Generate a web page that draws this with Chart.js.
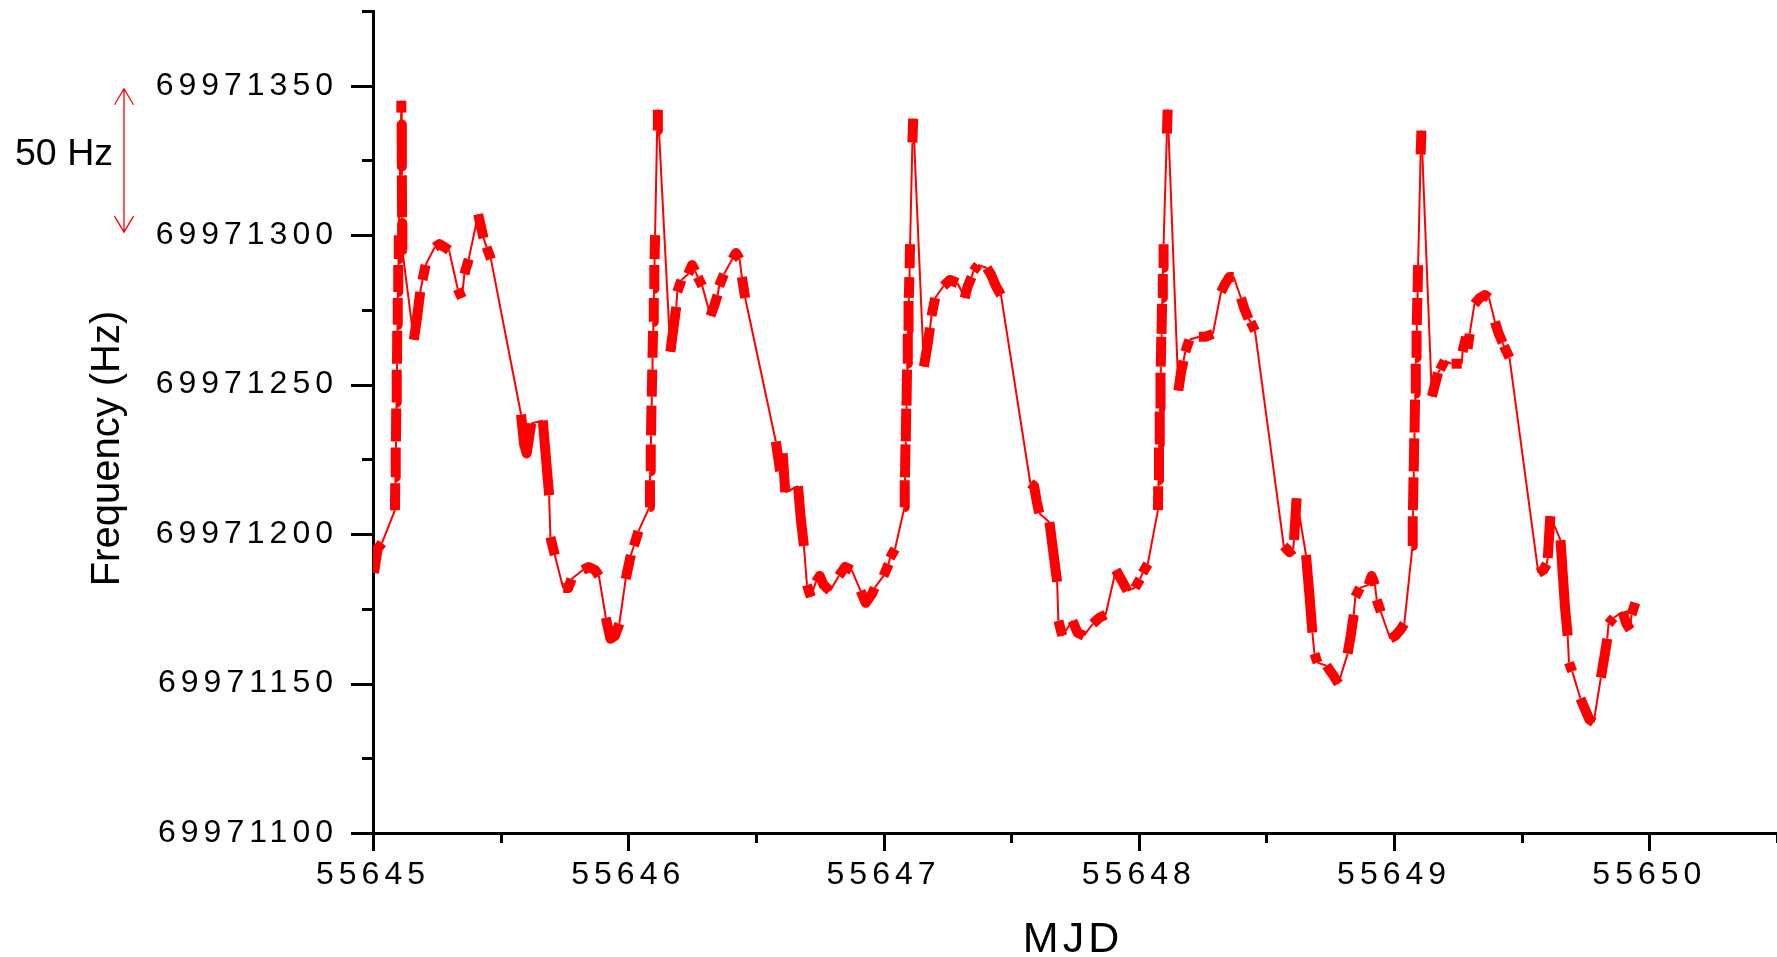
<!DOCTYPE html>
<html>
<head>
<meta charset="utf-8">
<script src="https://cdn.jsdelivr.net/npm/chart.js@4.4.1/dist/chart.umd.min.js"></script>
<style>
  html, body { margin: 0; padding: 0; background: #fff; }
  #wrap { width: 1777px; height: 957px; position: relative; }
</style>
</head>
<body>
<div id="wrap"><canvas id="freqChart"></canvas></div>
<script>
// each day: list of sampling runs, each run = [MJD, frequency Hz] pairs
const day55645 = [
    [[55645.004, 69971187], [55645.018, 69971195], [55645.035, 69971197]],
    [[55645.086, 69971208], [55645.087, 69971217]],
    [[55645.088, 69971219], [55645.089, 69971229]],
    [[55645.090, 69971231], [55645.091, 69971242]],
    [[55645.092, 69971244], [55645.093, 69971255]],
    [[55645.094, 69971257], [55645.095, 69971268]],
    [[55645.096, 69971270], [55645.097, 69971279]],
    [[55645.098, 69971281], [55645.099, 69971290]],
    [[55645.100, 69971292], [55645.101, 69971300]],
    [[55645.111, 69971341], [55645.111, 69971345]],
    [[55645.112, 69971337], [55645.113, 69971323]],
    [[55645.113, 69971320], [55645.114, 69971306]],
    [[55645.114, 69971304], [55645.115, 69971295]],
    [[55645.160, 69971265], [55645.172, 69971272], [55645.185, 69971281]],
    [[55645.194, 69971285], [55645.206, 69971290]],
    [[55645.242, 69971296], [55645.260, 69971297], [55645.280, 69971296], [55645.298, 69971295]],
    [[55645.332, 69971282], [55645.348, 69971279]],
    [[55645.358, 69971287], [55645.375, 69971292]],
    [[55645.412, 69971307], [55645.425, 69971302], [55645.433, 69971299]],
    [[55645.445, 69971296], [55645.462, 69971292]],
    [[55645.580, 69971240], [55645.592, 69971230], [55645.602, 69971227], [55645.620, 69971237]],
    [[55645.665, 69971238], [55645.677, 69971226], [55645.690, 69971213]],
    [[55645.695, 69971199], [55645.712, 69971193]],
    [[55645.745, 69971182], [55645.765, 69971182], [55645.778, 69971185]],
    [[55645.822, 69971188], [55645.845, 69971189], [55645.870, 69971188], [55645.885, 69971186]],
    [[55645.912, 69971172], [55645.930, 69971165], [55645.948, 69971166], [55645.965, 69971170]],
    [[55645.990, 69971185], [55646.010, 69971193]],
    [[55646.022, 69971196], [55646.040, 69971201]]
];
const day55646 = [
    [[55646.083, 69971209], [55646.085, 69971218]],
    [[55646.086, 69971221], [55646.088, 69971230]],
    [[55646.089, 69971233], [55646.091, 69971243]],
    [[55646.092, 69971246], [55646.094, 69971255]],
    [[55646.095, 69971259], [55646.097, 69971268]],
    [[55646.098, 69971271], [55646.100, 69971279]],
    [[55646.101, 69971282], [55646.102, 69971290]],
    [[55646.103, 69971292], [55646.105, 69971300]],
    [[55646.113, 69971335], [55646.116, 69971342]],
    [[55646.165, 69971261], [55646.177, 69971269], [55646.188, 69971276]],
    [[55646.192, 69971281], [55646.208, 69971285]],
    [[55646.235, 69971287], [55646.250, 69971290], [55646.262, 69971288]],
    [[55646.272, 69971286], [55646.290, 69971283]],
    [[55646.322, 69971273], [55646.335, 69971276], [55646.350, 69971280]],
    [[55646.356, 69971283], [55646.375, 69971287]],
    [[55646.408, 69971292], [55646.422, 69971294], [55646.436, 69971292]],
    [[55646.445, 69971286], [55646.458, 69971279]],
    [[55646.578, 69971231], [55646.595, 69971221]],
    [[55646.605, 69971227], [55646.615, 69971214]],
    [[55646.665, 69971216], [55646.676, 69971205], [55646.688, 69971196]],
    [[55646.700, 69971183], [55646.715, 69971179]],
    [[55646.735, 69971184], [55646.750, 69971186], [55646.765, 69971183], [55646.790, 69971181]],
    [[55646.825, 69971186], [55646.850, 69971189], [55646.875, 69971188]],
    [[55646.910, 69971181], [55646.930, 69971177], [55646.955, 69971180], [55646.965, 69971182]],
    [[55647.000, 69971186], [55647.020, 69971190]],
    [[55647.025, 69971192], [55647.045, 69971195]]
];
const day55647 = [
    [[55647.082, 69971209], [55647.083, 69971218]],
    [[55647.084, 69971219], [55647.086, 69971230]],
    [[55647.087, 69971231], [55647.089, 69971242]],
    [[55647.090, 69971243], [55647.092, 69971255]],
    [[55647.093, 69971257], [55647.095, 69971267]],
    [[55647.096, 69971268], [55647.098, 69971278]],
    [[55647.099, 69971279], [55647.101, 69971286]],
    [[55647.102, 69971289], [55647.104, 69971297]],
    [[55647.113, 69971331], [55647.116, 69971339]],
    [[55647.158, 69971256], [55647.170, 69971262], [55647.182, 69971269]],
    [[55647.188, 69971273], [55647.202, 69971279]],
    [[55647.235, 69971283], [55647.260, 69971285], [55647.290, 69971284]],
    [[55647.318, 69971279], [55647.330, 69971283], [55647.345, 69971286]],
    [[55647.352, 69971288], [55647.370, 69971290]],
    [[55647.405, 69971289], [55647.420, 69971287], [55647.440, 69971283], [55647.460, 69971280]],
    [[55647.575, 69971217], [55647.590, 69971216], [55647.600, 69971211], [55647.610, 69971207]],
    [[55647.650, 69971204], [55647.665, 69971194], [55647.680, 69971184]],
    [[55647.685, 69971171], [55647.700, 69971166]],
    [[55647.740, 69971171], [55647.760, 69971167], [55647.785, 69971166]],
    [[55647.820, 69971170], [55647.845, 69971172], [55647.870, 69971173]],
    [[55647.910, 69971188], [55647.930, 69971185], [55647.955, 69971181]],
    [[55647.985, 69971182], [55648.005, 69971185]],
    [[55648.015, 69971187], [55648.035, 69971190]]
];
const day55648 = [
    [[55648.075, 69971208], [55648.076, 69971216]],
    [[55648.077, 69971218], [55648.079, 69971229]],
    [[55648.080, 69971230], [55648.082, 69971241]],
    [[55648.083, 69971242], [55648.085, 69971254]],
    [[55648.086, 69971256], [55648.088, 69971266]],
    [[55648.089, 69971267], [55648.091, 69971277]],
    [[55648.092, 69971279], [55648.094, 69971287]],
    [[55648.095, 69971289], [55648.097, 69971297]],
    [[55648.110, 69971334], [55648.113, 69971342]],
    [[55648.155, 69971248], [55648.165, 69971254], [55648.175, 69971258]],
    [[55648.182, 69971261], [55648.198, 69971265]],
    [[55648.235, 69971266], [55648.260, 69971266], [55648.290, 69971267]],
    [[55648.322, 69971281], [55648.340, 69971284], [55648.355, 69971286], [55648.372, 69971286]],
    [[55648.400, 69971279], [55648.415, 69971275], [55648.430, 69971272]],
    [[55648.438, 69971271], [55648.455, 69971268]],
    [[55648.568, 69971196], [55648.590, 69971194], [55648.605, 69971195]],
    [[55648.608, 69971198], [55648.618, 69971212]],
    [[55648.655, 69971193], [55648.668, 69971180], [55648.680, 69971167]],
    [[55648.688, 69971160], [55648.700, 69971157]],
    [[55648.735, 69971156], [55648.760, 69971153], [55648.782, 69971150]],
    [[55648.818, 69971160], [55648.830, 69971166], [55648.842, 69971173]],
    [[55648.848, 69971179], [55648.866, 69971182]],
    [[55648.900, 69971183], [55648.912, 69971186], [55648.925, 69971183]],
    [[55648.932, 69971178], [55648.948, 69971174]],
    [[55648.985, 69971165], [55649.005, 69971166], [55649.025, 69971168], [55649.040, 69971170]]
];
const day55649 = [
    [[55649.072, 69971196], [55649.073, 69971206]],
    [[55649.074, 69971208], [55649.076, 69971219]],
    [[55649.077, 69971221], [55649.079, 69971232]],
    [[55649.080, 69971234], [55649.082, 69971245]],
    [[55649.083, 69971247], [55649.085, 69971257]],
    [[55649.086, 69971259], [55649.088, 69971268]],
    [[55649.089, 69971270], [55649.091, 69971279]],
    [[55649.092, 69971281], [55649.094, 69971290]],
    [[55649.104, 69971327], [55649.107, 69971335]],
    [[55649.148, 69971246], [55649.160, 69971250], [55649.172, 69971254]],
    [[55649.180, 69971255], [55649.198, 69971258]],
    [[55649.225, 69971257], [55649.245, 69971257], [55649.265, 69971257]],
    [[55649.268, 69971261], [55649.282, 69971266]],
    [[55649.288, 69971262], [55649.296, 69971267]],
    [[55649.315, 69971277], [55649.335, 69971279], [55649.355, 69971280], [55649.372, 69971279]],
    [[55649.395, 69971271], [55649.410, 69971267], [55649.425, 69971264]],
    [[55649.430, 69971263], [55649.452, 69971259]],
    [[55649.565, 69971187], [55649.585, 69971188], [55649.598, 69971190]],
    [[55649.602, 69971192], [55649.612, 69971206]],
    [[55649.652, 69971198], [55649.662, 69971185], [55649.670, 69971175], [55649.680, 69971166]],
    [[55649.685, 69971157], [55649.698, 69971154]],
    [[55649.730, 69971145], [55649.750, 69971141], [55649.765, 69971138], [55649.782, 69971137]],
    [[55649.810, 69971152], [55649.822, 69971158], [55649.835, 69971165]],
    [[55649.840, 69971170], [55649.860, 69971172]],
    [[55649.895, 69971174], [55649.910, 69971170], [55649.925, 69971168]],
    [[55649.930, 69971173], [55649.945, 69971177]]
];

const xMin = 55645, xMax = 55650.5, xStep = 0.5;
const yMin = 69971100, yMax = 69971375, yStep = 25, yLabelStep = 50;
const scaleBarFrom = 69971301, scaleBarTo = 69971349;

const fontFamily = '"Liberation Sans", Arial, sans-serif';

// flatten runs, remember which run every point came from
const points = [];
const runOf = [];
[day55645, day55646, day55647, day55648, day55649].flat(1).forEach(function(run, r) {
    run.forEach(function(p) {
        points.push({ x: p[0], y: p[1] });
        runOf.push(r);
    });
});

function sameRun(c) {
    return runOf[c.p0DataIndex] === runOf[c.p1DataIndex];
}

// keep the plot area fixed: no extra room for overhanging labels
function fixScale(s, size) {
    if (s.isHorizontal()) s.height = size; else s.width = size;
    s.paddingTop = 0;
    s.paddingBottom = 0;
    s.paddingLeft = 0;
    s.paddingRight = 0;
}

const axisExtras = {
    id: 'axisExtras',
    beforeDraw(chart) {
        chart.ctx.letterSpacing = '5px';
    },
    afterDraw(chart) {
        const ctx = chart.ctx;
        const area = chart.chartArea;
        const xs = chart.scales.x, ys = chart.scales.y;
        ctx.save();
        ctx.strokeStyle = '#000';
        ctx.lineWidth = 3;
        ctx.beginPath();
        ys.ticks.forEach(function(t) {
            const py = Math.round(ys.getPixelForValue(t.value)) + 0.5;
            const len = Math.round(t.value - yMin) % yLabelStep === 0 ? 22 : 11;
            ctx.moveTo(area.left - len, py);
            ctx.lineTo(area.left, py);
        });
        xs.ticks.forEach(function(t) {
            const px = Math.round(xs.getPixelForValue(t.value)) + 0.5;
            const len = Math.abs(t.value - Math.round(t.value)) < 1e-6 ? 18 : 10;
            ctx.moveTo(px, area.bottom);
            ctx.lineTo(px, area.bottom + len);
        });
        ctx.stroke();

        ctx.fillStyle = '#000';
        // x title
        ctx.letterSpacing = '4px';
        ctx.font = '43px ' + fontFamily;
        ctx.textAlign = 'center';
        ctx.textBaseline = 'alphabetic';
        ctx.fillText('MJD', 1073, 952);

        // y title
        ctx.letterSpacing = '0px';
        ctx.font = '40px ' + fontFamily;
        ctx.save();
        ctx.translate(118.5, 448.5);
        ctx.rotate(-Math.PI / 2);
        ctx.fillText('Frequency (Hz)', 0, 0);
        ctx.restore();

        // 50 Hz scale bar
        const top = ys.getPixelForValue(scaleBarTo);
        const bot = ys.getPixelForValue(scaleBarFrom);
        const ax = 124;
        ctx.strokeStyle = '#ff0000';
        ctx.lineWidth = 1.3;
        ctx.beginPath();
        ctx.moveTo(ax, top); ctx.lineTo(ax, bot);
        ctx.moveTo(ax - 9.5, top + 16); ctx.lineTo(ax, top); ctx.lineTo(ax + 9.5, top + 16);
        ctx.moveTo(ax - 9.5, bot - 16); ctx.lineTo(ax, bot); ctx.lineTo(ax + 9.5, bot - 16);
        ctx.stroke();
        ctx.font = '37.5px ' + fontFamily;
        ctx.textAlign = 'left';
        ctx.fillText('50 Hz', 15, 165);
        ctx.restore();
    }
};

var ctx = document.getElementById('freqChart').getContext('2d');
var myChart = new Chart(ctx, {
    type: 'line',
    data: {
        datasets: [{
            data: points,
            borderColor: '#ff0000',
            borderWidth: 2,
            pointRadius: 0,
            tension: 0,
            segment: {
                borderWidth: c => sameRun(c) ? 10 : 2,
                borderJoinStyle: c => sameRun(c) ? 'round' : 'miter'
            }
        }]
    },
    options: {
        responsive: true,
        maintainAspectRatio: false,
        animation: false,
        layout: { padding: { top: 11, right: 0, bottom: 0, left: 0 } },
        scales: {
            x: {
                type: 'linear',
                min: xMin,
                max: xMax,
                afterFit: s => fixScale(s, 124),
                grid: { drawOnChartArea: false, drawTicks: false },
                border: { display: true, color: '#000', width: 3 },
                ticks: {
                    stepSize: xStep,
                    autoSkip: false,
                    maxRotation: 0,
                    padding: 23,
                    color: '#000',
                    font: { family: fontFamily, size: 32 },
                    callback: v => Math.abs(v - Math.round(v)) < 1e-6 ? String(Math.round(v)) : ''
                }
            },
            y: {
                type: 'linear',
                min: yMin,
                max: yMax,
                afterFit: s => fixScale(s, 373),
                grid: { drawOnChartArea: false, drawTicks: false },
                border: { display: true, color: '#000', width: 3 },
                ticks: {
                    stepSize: yStep,
                    autoSkip: false,
                    padding: 35,
                    color: '#000',
                    font: { family: fontFamily, size: 32 },
                    callback: v => Math.round(v - yMin) % yLabelStep === 0 ? String(Math.round(v)) : ''
                }
            }
        },
        plugins: {
            legend: { display: false },
            tooltip: { enabled: false }
        }
    },
    plugins: [axisExtras]
});
</script>
</body>
</html>
